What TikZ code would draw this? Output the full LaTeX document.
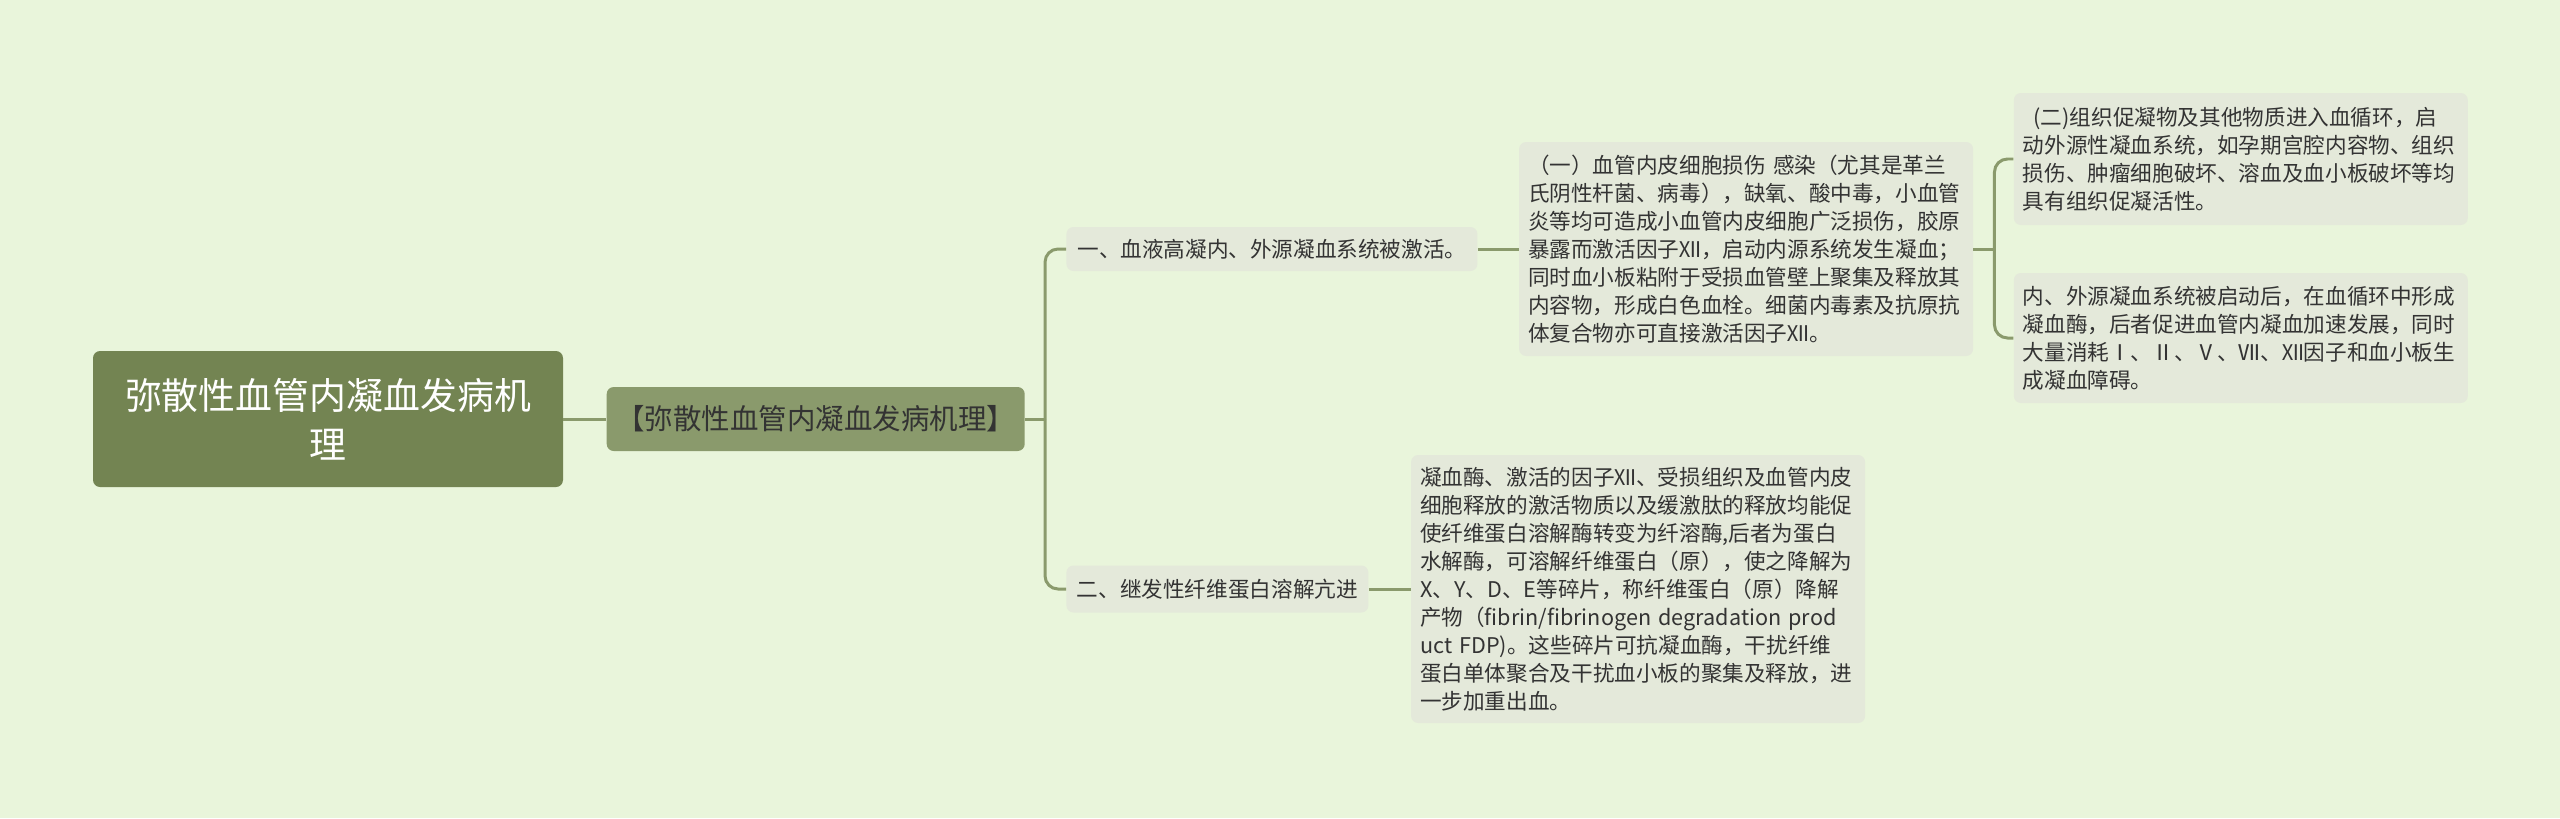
\documentclass[tikz,border=0pt]{standalone}
\usepackage{fontspec}
\setmainfont{Noto Sans CJK SC}
\usepackage{xcolor}
\usetikzlibrary{positioning}
\definecolor{bg}{HTML}{E9F5DB}
\definecolor{rootgreen}{HTML}{738452}
\definecolor{subgreen}{HTML}{8A9A6C}
\definecolor{leafgray}{HTML}{E4E9DA}
\definecolor{inktext}{HTML}{333333}

\begin{document}
\begin{tikzpicture}[
    node distance=0.82cm,
    rootbox/.style={rectangle, fill=rootgreen, text=white, minimum width=9.4cm, minimum height=2.72cm, align=center, rounded corners=4pt, font=\fontsize{21}{27.8}\selectfont},
    subbox/.style={rectangle, fill=subgreen, text=inktext, minimum width=8.36cm, minimum height=1.28cm, align=center, rounded corners=4pt, font=\fontsize{16.2}{20}\selectfont},
    topic/.style={rectangle, fill=leafgray, text=inktext, minimum height=0.88cm, align=center, rounded corners=4pt, font=\fontsize{12.3}{15.9}\selectfont},
    detail/.style={topic, text width=8.72cm, inner xsep=0.18cm, align=left},
    link/.style={draw=subgreen, line width=1.7pt, rounded corners=0.26cm}
]
\useasboundingbox[fill=bg] (0,0) rectangle (51.2,-16.36);

\node[rootbox] (root) at (6.56,-8.38) {弥散性血管内凝血发病机\\理};
\node[subbox, right=0.86cm of root] (mech) {【弥散性血管内凝血发病机理】};

\node[topic, minimum width=8.22cm, right=0.82cm of mech, yshift=3.4cm] (hyper) {一、血液高凝内、外源凝血系统被激活。};
\node[topic, minimum width=6.04cm, minimum height=0.94cm, right=0.82cm of mech, yshift=-3.4cm] (fibrino) {二、继发性纤维蛋白溶解亢进};

\node[detail, minimum height=4.28cm, right=0.82cm of hyper] (endo) {（一）血管内皮细胞损伤 感染（尤其是革兰\\氏阴性杆菌、病毒），缺氧、酸中毒，小血管\\炎等均可造成小血管内皮细胞广泛损伤，胶原\\暴露而激活因子Ⅻ，启动内源系统发生凝血；\\同时血小板粘附于受损血管壁上聚集及释放其\\内容物，形成白色血栓。细菌内毒素及抗原抗\\体复合物亦可直接激活因子Ⅻ。};
\node[detail, minimum height=2.64cm, right=0.8cm of endo, yshift=1.8cm] (tissue) {\hspace{0.5em}(二)组织促凝物及其他物质进入血循环，启\\动外源性凝血系统，如孕期宫腔内容物、组织\\损伤、肿瘤细胞破坏、溶血及血小板破坏等均\\具有组织促凝活性。};
\node[detail, minimum height=2.6cm, right=0.8cm of endo, yshift=-1.78cm] (consume) {内、外源凝血系统被启动后，在血循环中形成\\凝血酶，后者促进血管内凝血加速发展，同时\\大量消耗Ⅰ、Ⅱ、Ⅴ、Ⅶ、Ⅻ因子和血小板生\\成凝血障碍。};
\node[detail, minimum height=5.36cm, right=0.84cm of fibrino] (fdp) {凝血酶、激活的因子Ⅻ、受损组织及血管内皮\\细胞释放的激活物质以及缓激肽的释放均能促\\使纤维蛋白溶解酶转变为纤溶酶,后者为蛋白\\水解酶，可溶解纤维蛋白（原），使之降解为\\X、Y、D、E等碎片，称纤维蛋白（原）降解\\产物（fibrin/fibrinogen degradation prod\\uct FDP)。这些碎片可抗凝血酶，干扰纤维\\蛋白单体聚合及干扰血小板的聚集及释放，进\\一步加重出血。};

\coordinate[right=0.4cm of mech] (mechbus);
\coordinate[right=0.42cm of endo] (endobus);

\draw[link] (root) -- (mech);
\draw[link] (mech.east) -- (mechbus);
\draw[link] (mechbus) |- (hyper.west);
\draw[link] (mechbus) |- (fibrino.west);
\draw[link] (hyper) -- (endo);
\draw[link] (endo.east) -- (endobus);
\draw[link] (endobus) |- (tissue.west);
\draw[link] (endobus) |- (consume.west);
\draw[link] (fibrino) -- (fdp);

\end{tikzpicture}
\end{document}
